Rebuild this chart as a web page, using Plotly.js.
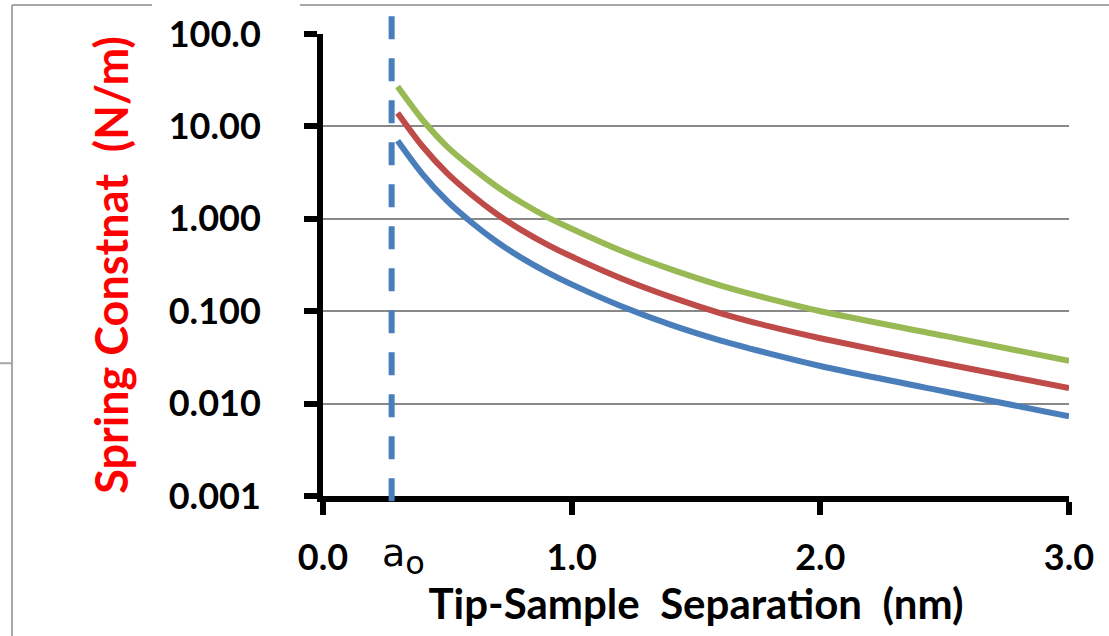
<!DOCTYPE html>
<html>
<head>
<meta charset="utf-8">
<script src="https://cdn.plot.ly/plotly-3.0.1.min.js"></script>
<style>
html,body{margin:0;padding:0;background:#fff;}
#chart{width:1109px;height:636px;}
</style>
</head>
<body>
<div id="chart"></div>
<script>
// Tip-sample separation (nm)
const separation = [0.3, 0.4, 0.5, 0.6, 0.7, 0.8, 0.9, 1.0, 1.2, 1.4, 1.6, 1.8, 2.0, 2.5, 3.0];
// Spring constant (N/m) for the three curves
const blueK  = [7.0, 3.05, 1.55, 0.90, 0.56, 0.375, 0.265, 0.195, 0.113, 0.071, 0.048, 0.0345, 0.0255, 0.0135, 0.0073];
const redK   = [14.0, 6.1, 3.1, 1.8, 1.12, 0.75, 0.53, 0.39, 0.226, 0.142, 0.095, 0.068, 0.051, 0.027, 0.0147];
const greenK = [27.0, 11.8, 6.0, 3.55, 2.22, 1.49, 1.05, 0.78, 0.45, 0.283, 0.189, 0.135, 0.100, 0.054, 0.029];
// a0 marker position (nm)
const a0 = 0.276;
// Axis ticks
const xTickVals = [0, 1, 2, 3];
const xTickText = ["0.0", "1.0", "2.0", "3.0"];
const yTickVals = [100, 10, 1, 0.1, 0.01, 0.001];
const yTickText = ["100.0", "10.00", "1.000", "0.100", "0.010", "0.001"];

const W = 1109, H = 636;
const M = {l: 323, r: 40, t: 34, b: 140.3};
const PW = W - M.l - M.r, PH = H - M.t - M.b;
const px = v => (v - M.l) / PW;          // pixel x -> paper x
const py = v => (H - M.b - v) / PH;      // pixel y -> paper y

const lineW = 6;
const traces = [
  {x: separation, y: blueK, mode: 'lines', line: {color: '#4A7EBB', width: lineW, shape: 'spline', smoothing: 0.8}, name: 'k1'},
  {x: separation, y: redK, mode: 'lines', line: {color: '#BE4B48', width: lineW, shape: 'spline', smoothing: 0.8}, name: 'k2'},
  {x: separation, y: greenK, mode: 'lines', line: {color: '#98B954', width: lineW, shape: 'spline', smoothing: 0.8}, name: 'k3'}
];

const FONT = 'Lato, "Open Sans", sans-serif';
const tickFont = {family: FONT, size: 36, color: '#000', weight: 'bold'};

const layout = {
  width: W, height: H,
  margin: {l: M.l, r: M.r, t: M.t, b: M.b, pad: 0},
  paper_bgcolor: '#fff', plot_bgcolor: '#fff',
  showlegend: false,
  xaxis: {
    range: [0, 3], autorange: false,
    tickvals: xTickVals, ticktext: xTickText,
    ticks: 'outside', ticklen: 13, tickwidth: 6, tickcolor: '#000',
    showline: true, linecolor: '#000', linewidth: 6,
    showgrid: false, zeroline: false,
    tickfont: tickFont, ticklabelstandoff: 12,
    automargin: false,
    title: {text: 'Tip-Sample  Separation  (nm)', font: {family: FONT, size: 42, color: '#000', weight: 'bold'}, standoff: 2}
  },
  yaxis: {
    type: 'log', range: [-3, 2], autorange: false,
    tickvals: yTickVals, ticktext: yTickText,
    ticks: 'outside', ticklen: 13, tickwidth: 6, tickcolor: '#000',
    showline: true, linecolor: '#000', linewidth: 6,
    showgrid: true, gridcolor: '#888888', gridwidth: 2,
    zeroline: false,
    tickfont: tickFont, ticklabelstandoff: 36,
    automargin: false,
    title: {text: 'Spring Constnat  (N/m)', font: {family: FONT, size: 45, color: '#FF0000', weight: 'bold'}, standoff: 28}
  },
  shapes: [
    {type: 'line', xref: 'x', yref: 'paper', x0: a0, x1: a0, y0: py(501), y1: py(15),
     line: {color: '#4A7EBB', width: 6, dash: '23px,19px'}},
    // slide frame fragments
    {type: 'line', xref: 'paper', yref: 'paper', x0: px(12), x1: px(152), y0: py(5), y1: py(5), line: {color: '#A6A6A6', width: 2}},
    {type: 'line', xref: 'paper', yref: 'paper', x0: px(300), x1: px(1109), y0: py(5), y1: py(5), line: {color: '#A6A6A6', width: 2}},
    {type: 'line', xref: 'paper', yref: 'paper', x0: px(12), x1: px(12), y0: py(5), y1: py(636), line: {color: '#A6A6A6', width: 2}},
    {type: 'line', xref: 'paper', yref: 'paper', x0: px(0), x1: px(12), y0: py(363), y1: py(363), line: {color: '#A6A6A6', width: 2}}
  ],
  annotations: [
    {xref: 'x', yref: 'paper', x: a0, y: py(556), xanchor: 'left', yanchor: 'middle', xshift: -12,
     text: 'a<sub><span style="font-size:32px">o</span></sub>', showarrow: false,
     font: {family: '"DejaVu Sans", sans-serif', size: 38, color: '#000'}}
  ]
};

Plotly.newPlot('chart', traces, layout, {displayModeBar: false, staticPlot: true});
</script>
</body>
</html>
